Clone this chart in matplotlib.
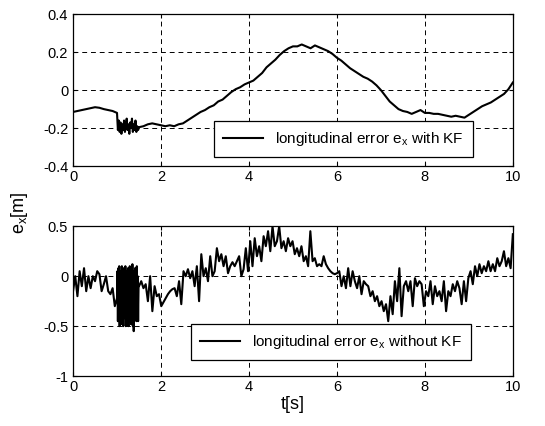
import numpy as np
import matplotlib
matplotlib.use('Agg')
import matplotlib.pyplot as plt

plt.rcParams['font.family'] = ['Liberation Sans', 'DejaVu Sans']
plt.rcParams['mathtext.fontset'] = 'custom'
plt.rcParams['mathtext.rm'] = 'Liberation Sans'
plt.rcParams['mathtext.it'] = 'Liberation Sans'

# ---- with KF (top) ----
kf_start = [-0.115, -0.11, -0.105, -0.10, -0.095, -0.09, -0.093, -0.10, -0.105, -0.11,
            -0.12]
kf_burst = [-0.21, -0.16, -0.22, -0.17, -0.23, -0.18, -0.21, -0.16, -0.22, -0.19,
            -0.15, -0.21, -0.18, -0.23, -0.17, -0.20, -0.15, -0.22, -0.18, -0.21,
            -0.16, -0.22, -0.19, -0.21]
kf_rest = [-0.195, -0.19, -0.18, -0.175, -0.18, -0.185, -0.19, -0.185, -0.19, -0.18,
           -0.175, -0.16, -0.145, -0.13, -0.115, -0.105, -0.09, -0.08, -0.06, -0.05,
           -0.03, -0.01, 0.005, 0.015, 0.03, 0.04, 0.05, 0.07, 0.09, 0.12,
           0.14, 0.16, 0.185, 0.205, 0.22, 0.23, 0.23, 0.24, 0.23, 0.22,
           0.235, 0.225, 0.215, 0.205, 0.19, 0.17, 0.155, 0.135, 0.115, 0.10,
           0.085, 0.07, 0.06, 0.045, 0.025, 0.0, -0.03, -0.06, -0.08, -0.10,
           -0.11, -0.115, -0.125, -0.115, -0.105, -0.12, -0.12, -0.125, -0.125, -0.13,
           -0.135, -0.14, -0.135, -0.14, -0.145, -0.13, -0.115, -0.10, -0.085, -0.075,
           -0.065, -0.05, -0.035, -0.02, 0.005, 0.04]

# ---- without KF (bottom) ----
raw_start = [-0.15, 0.0, -0.2, 0.05, -0.1, 0.08, -0.15, 0.0, -0.12, 0.0,
             -0.05, 0.05, 0.02, -0.15, -0.08, 0.0, -0.15, -0.18, -0.12, -0.3,
             -0.22]
raw_burst = [0.05, -0.45, 0.08, -0.4, 0.1, -0.5, 0.0, -0.35, 0.05, -0.48,
             0.1, -0.3, 0.02, -0.5, 0.08, -0.42, 0.05, -0.38, 0.1, -0.5,
             0.0, -0.45, 0.05, -0.3, 0.08, -0.5, 0.03, -0.4, 0.1, -0.45,
             0.05, -0.48, 0.02, -0.35, 0.12, -0.5, 0.05, -0.55, 0.0, -0.42,
             0.08, -0.3, 0.05, -0.45, 0.1, -0.4, 0.0, -0.45, -0.1]
raw_rest = [-0.1, -0.05, -0.12, -0.08, -0.25, 0.0, -0.35, -0.1, -0.2, -0.18,
            -0.3, -0.26, -0.22, -0.18, -0.15, -0.13, -0.12, -0.2, -0.05, -0.28,
            0.05, 0.0, 0.07, -0.02, 0.05, -0.1, 0.1, -0.25, 0.22, 0.0,
            0.08, -0.05, 0.2, 0.0, 0.05, 0.28, 0.15, 0.22, 0.1, 0.2,
            0.03, 0.1, 0.14, 0.1, 0.15, 0.2, 0.0, 0.07, 0.28, 0.05,
            0.35, 0.1, 0.38, 0.2, 0.3, 0.15, 0.4, 0.3, 0.45, 0.25,
            0.5, 0.3, 0.35, 0.5, 0.28, 0.35, 0.25, 0.38, 0.3, 0.35,
            0.22, 0.28, 0.2, 0.3, 0.15, 0.2, 0.1, 0.45, 0.15, 0.18,
            0.1, 0.12, 0.1, 0.2, 0.12, 0.08, 0.05, 0.03, 0.02, 0.03,
            0.05, -0.1, 0.0, -0.12, 0.08, -0.1, 0.05, -0.05, -0.12, 0.0,
            -0.18, -0.05, -0.08, -0.1, -0.2, -0.15, -0.25, -0.2, -0.3, -0.25,
            -0.35, -0.28, -0.45, -0.2, -0.38, -0.05, -0.25, 0.08, -0.4, -0.1,
            -0.05, -0.15, -0.05, -0.3, -0.02, -0.1, -0.05, -0.08, -0.3, -0.15,
            -0.2, -0.05, -0.28, -0.1, -0.2, -0.15, -0.25, -0.05, -0.35, -0.15,
            -0.2, -0.08, -0.15, -0.05, -0.12, -0.28, -0.05, -0.25, -0.02, 0.05,
            -0.08, 0.1, 0.0, 0.12, 0.03, 0.1, 0.05, 0.15, 0.05, 0.12,
            0.05, 0.18, 0.1, 0.15, 0.25, 0.1, 0.18, 0.08, 0.42]

t_kf = np.concatenate([np.linspace(0, 1.0, len(kf_start)),
                       np.linspace(1.02, 1.48, len(kf_burst)),
                       np.linspace(1.5, 10, len(kf_rest))])
e_kf = np.array(kf_start + kf_burst + kf_rest)

t_raw = np.concatenate([np.linspace(0, 1.0, len(raw_start)),
                        np.linspace(1.01, 1.49, len(raw_burst)),
                        np.linspace(1.5, 10, len(raw_rest))])
e_raw = np.array(raw_start + raw_burst + raw_rest)

fig = plt.figure(figsize=(5.45, 4.26), dpi=100)
ax1 = fig.add_axes([0.134, 0.610, 0.807, 0.357])
ax2 = fig.add_axes([0.134, 0.117, 0.807, 0.352])


def style(ax, ylim, yticks):
    ax.set_xlim(0, 10)
    ax.set_ylim(*ylim)
    ax.set_xticks([0, 2, 4, 6, 8, 10])
    ax.set_yticks(yticks)
    ax.grid(True, color='black', linestyle=(0, (5, 4)), linewidth=0.7)
    ax.tick_params(direction='in', labelsize=10.5, length=3, width=0.8,
                   top=True, right=True)
    ax.tick_params(axis='x', pad=3)
    for s in ax.spines.values():
        s.set_linewidth(0.9)


ax1.plot(t_kf, e_kf, color='black', lw=1.5,
         label='longitudinal error e$_\\mathregular{x}$ with KF')
style(ax1, (-0.4, 0.4), [-0.4, -0.2, 0, 0.2, 0.4])
ax1.set_yticklabels(['-0.4', '-0.2', '0', '0.2', '0.4'])
leg1 = ax1.legend(loc='lower right', bbox_to_anchor=(0.909, 0.059),
                  borderaxespad=0, fancybox=False, edgecolor='black',
                  framealpha=1, fontsize=11, handlelength=2.6,
                  borderpad=0.6)
leg1.get_frame().set_linewidth(0.9)

ax2.plot(t_raw, e_raw, color='black', lw=1.5,
         label='longitudinal error e$_\\mathregular{x}$ without KF')
style(ax2, (-1, 0.5), [-1, -0.5, 0, 0.5])
ax2.set_yticklabels(['-1', '-0.5', '0', '0.5'])
leg2 = ax2.legend(loc='lower right', bbox_to_anchor=(0.905, 0.107),
                  borderaxespad=0, fancybox=False, edgecolor='black',
                  framealpha=1, fontsize=11, handlelength=2.6,
                  borderpad=0.6)
leg2.get_frame().set_linewidth(0.9)
ax2.set_xlabel('t[s]', fontsize=13, labelpad=1)

fig.text(0.035, 0.5, 'e$_\\mathregular{x}$[m]', rotation=90, fontsize=13,
         ha='center', va='center')

fig.savefig('out.png', dpi=100)
